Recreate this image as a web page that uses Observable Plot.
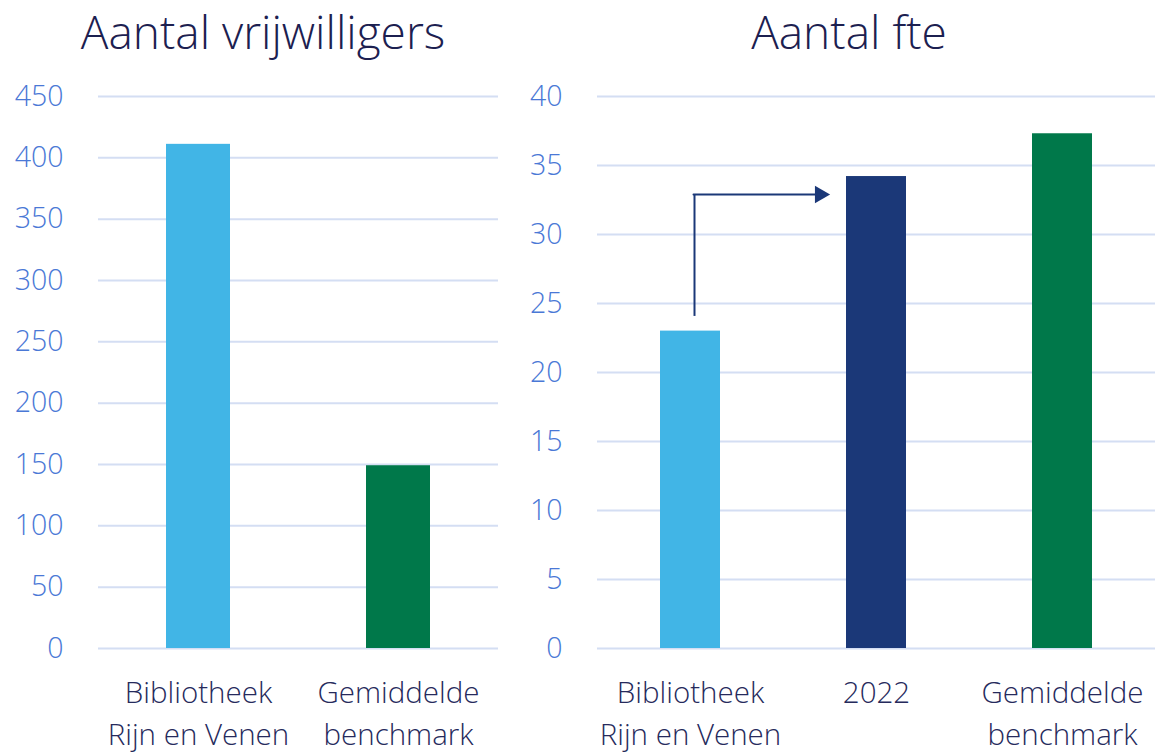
<!DOCTYPE html>
<html>
<head>
<meta charset="utf-8">
<script src="https://cdn.jsdelivr.net/npm/d3@7"></script>
<script src="https://cdn.jsdelivr.net/npm/@observablehq/plot@0.6"></script>
<style>
  html, body { margin: 0; padding: 0; background: #ffffff; }
  #wrap { position: relative; width: 1155px; height: 755px; overflow: hidden; font-family: "Open Sans", sans-serif; }
  .title { position: absolute; top: 0; font-size: 46px; font-weight: 300; color: #1c2050; line-height: normal; white-space: nowrap; text-align: center; }
  #t1 { left: 0; width: 526px; }
  #t2 { left: 543px; width: 612px; }
  .panel { position: absolute; top: 70px; }
  #p1 { left: 0; }
  #p2 { left: 510px; }
</style>
</head>
<body>
<div id="wrap">
  <div class="title" id="t1">Aantal vrijwilligers</div>
  <div class="title" id="t2">Aantal fte</div>
  <div class="panel" id="p1"></div>
  <div class="panel" id="p2"></div>
</div>
<script>
// ---- data ----
const vrijCategories = ["Bibliotheek\nRijn en Venen", "Gemiddelde\nbenchmark"];
const vrijValues = [411, 149];
const vrijColors = ["#41b5e6", "#00784a"];
const vrijTicks = [0, 50, 100, 150, 200, 250, 300, 350, 400, 450];

const fteCategories = ["Bibliotheek\nRijn en Venen", "2022", "Gemiddelde\nbenchmark"];
const fteValues = [23.0, 34.2, 37.3];
const fteColors = ["#41b5e6", "#1b3878", "#00784a"];
const fteTicks = [0, 5, 10, 15, 20, 25, 30, 35, 40];

// arrow annotation (from first bar to the 2022 bar)
const arrowYStart = 24.1;
const arrowYCorner = 32.9;

const vrijData = vrijCategories.map((c, i) => ({cat: c, value: vrijValues[i], color: vrijColors[i]}));
const fteData = fteCategories.map((c, i) => ({cat: c, value: fteValues[i], color: fteColors[i]}));

const font = "Open Sans, sans-serif";
const gridColor = "#d4def3";
const tickColor = "#4a78d6";
const labelColor = "#262a5c";
const arrowColor = "#1b3878";

function panel(data, cats, ticks, ymax, opts) {
  return Plot.plot({
    width: opts.width,
    height: 685,
    marginTop: 26,
    marginBottom: 107,
    marginLeft: opts.marginLeft,
    marginRight: opts.marginRight,
    style: {fontFamily: font, background: "transparent", overflow: "visible"},
    x: {domain: cats, paddingInner: 0.68, paddingOuter: 0.34, label: null},
    y: {domain: [0, ymax], label: null},
    marks: [
      Plot.gridY(ticks, {stroke: gridColor, strokeOpacity: 1, strokeWidth: 2}),
      Plot.axisY(ticks, {tickSize: 0, tickPadding: 35, fontSize: 28.5, fontWeight: 300, fill: tickColor, label: null}),
      Plot.axisX({tickSize: 0, tickPadding: 25, fontSize: 29.5, fontWeight: 300, fill: labelColor, lineHeight: 1.42, label: null}),
      Plot.barY(data, {x: "cat", y: "value", fill: "color"}),
      ...(opts.extra || [])
    ]
  });
}

document.getElementById("p1").appendChild(
  panel(vrijData, vrijCategories, vrijTicks, 450, {width: 510, marginLeft: 98, marginRight: 12})
);

const arrowMarks = [
  Plot.link([{x: fteCategories[0], y1: arrowYStart, y2: arrowYCorner}], {x: "x", y1: "y1", y2: "y2", dx: 4, stroke: arrowColor, strokeWidth: 2}),
  Plot.arrow([{x1: fteCategories[0], x2: fteCategories[1], y: arrowYCorner}], {x1: "x1", x2: "x2", y1: "y", y2: "y", stroke: arrowColor, strokeWidth: 2, headLength: 0, insetStart: 3, insetEnd: 60}),
  Plot.dot([{x: fteCategories[1], y: arrowYCorner}], {x: "x", y: "y", symbol: "triangle", r: 6.5, rotate: 90, fill: arrowColor, stroke: "none", dx: -56.5})
];

document.getElementById("p2").appendChild(
  panel(fteData, fteCategories, fteTicks, 40, {width: 645, marginLeft: 87, marginRight: 0, extra: arrowMarks})
);
</script>
</body>
</html>
